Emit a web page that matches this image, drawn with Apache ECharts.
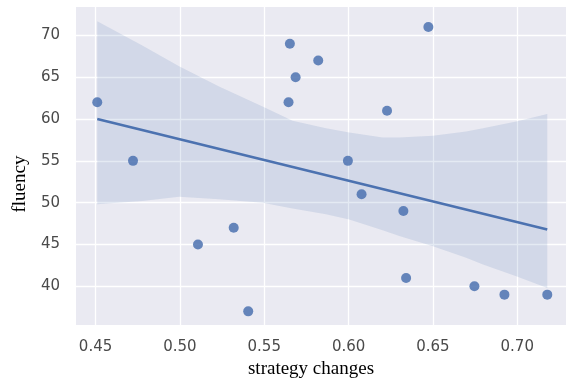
<!DOCTYPE html>
<html>
<head>
<meta charset="utf-8">
<script src="https://cdn.jsdelivr.net/npm/echarts@6/dist/echarts.min.js"></script>
<style>
html,body{margin:0;padding:0;background:#fff;}
#chart{width:566px;height:379px;}
</style>
</head>
<body>
<div id="chart"></div>
<script>
// Scatter points (strategy changes vs fluency)
const pointX = [0.451, 0.4722, 0.5107, 0.5319, 0.5405, 0.5644, 0.5652, 0.5686, 0.582, 0.5996, 0.6077, 0.6228, 0.6325, 0.6341, 0.6473, 0.6746, 0.6924, 0.7178];
const pointY = [62, 55, 45, 47, 37, 62, 69, 65, 67, 55, 51, 61, 49, 41, 71, 40, 39, 39];

// Regression line endpoints
const lineX = [0.451, 0.7178];
const lineY = [60.0, 46.8];

// Confidence band
const bandX     = [0.451, 0.4777, 0.4995, 0.5232, 0.549, 0.5668, 0.5866, 0.6004, 0.6202, 0.6301, 0.65, 0.6697, 0.6797, 0.6994, 0.7178];
const bandUpper = [71.7, 68.8, 66.3, 63.9, 61.5, 59.8, 58.9, 58.4, 57.8, 57.8, 58.0, 58.5, 58.9, 59.7, 60.6];
const bandLower = [49.8, 50.2, 50.7, 50.4, 50.0, 49.3, 48.6, 48.0, 46.7, 46.0, 44.8, 43.4, 42.6, 41.2, 39.8];

const xTitle = 'strategy changes';
const yTitle = 'fluency';

const chart = echarts.init(document.getElementById('chart'), null, {renderer: 'canvas'});

const tickFont = {color: '#4a4a4a', fontFamily: 'DejaVu Sans', fontSize: 15};
const titleFont = {color: '#000', fontFamily: 'Liberation Serif', fontSize: 19};

chart.setOption({
  animation: false,
  backgroundColor: '#ffffff',
  grid: {
    left: 76, top: 7, right: 0, bottom: 54,
    outerBoundsMode: 'none', containLabel: false,
    show: true, backgroundColor: '#EAEAF2', borderWidth: 0
  },
  xAxis: {
    type: 'value',
    min: 0.4384, max: 0.7289,
    name: xTitle, nameLocation: 'middle', nameGap: 33,
    nameTextStyle: Object.assign({padding: [0, 20, 0, 0]}, titleFont),
    axisLine: {show: false}, axisTick: {show: false},
    axisLabel: Object.assign({margin: 15, showMinLabel: false, showMaxLabel: false,
      formatter: v => v.toFixed(2)}, tickFont),
    splitLine: {show: true, showMinLine: false, showMaxLine: false, lineStyle: {color: '#ffffff', width: 1.3}}
  },
  yAxis: {
    type: 'value',
    min: 35.37, max: 73.4, splitNumber: 7,
    name: yTitle, nameLocation: 'middle', nameGap: 38,
    nameTextStyle: Object.assign({padding: [0, 36, 0, 0]}, titleFont),
    axisLine: {show: false}, axisTick: {show: false},
    axisLabel: Object.assign({margin: 16, showMinLabel: false, showMaxLabel: false}, tickFont),
    splitLine: {show: true, showMinLine: false, showMaxLine: false, lineStyle: {color: '#ffffff', width: 1.3}}
  },
  series: [
    {
      type: 'custom',
      silent: true,
      z: 1,
      data: bandX.map((x, i) => [x, bandLower[i], bandUpper[i]]),
      encode: {x: 0, y: [1, 2]},
      renderItem: function (params, api) {
        if (params.dataIndex !== 0) return null;
        const pts = [];
        for (let i = 0; i < bandX.length; i++) pts.push(api.coord([bandX[i], bandUpper[i]]));
        for (let i = bandX.length - 1; i >= 0; i--) pts.push(api.coord([bandX[i], bandLower[i]]));
        return {type: 'polygon', shape: {points: pts}, style: {fill: 'rgba(76,114,176,0.15)'}};
      }
    },
    {
      type: 'scatter',
      z: 2,
      symbolSize: 10,
      itemStyle: {color: '#4C72B0', opacity: 0.85},
      data: pointX.map((x, i) => [x, pointY[i]])
    },
    {
      type: 'line',
      z: 3,
      showSymbol: false,
      symbol: 'none',
      lineStyle: {color: '#4C72B0', width: 2.6},
      data: lineX.map((x, i) => [x, lineY[i]])
    }
  ]
});
</script>
</body>
</html>
